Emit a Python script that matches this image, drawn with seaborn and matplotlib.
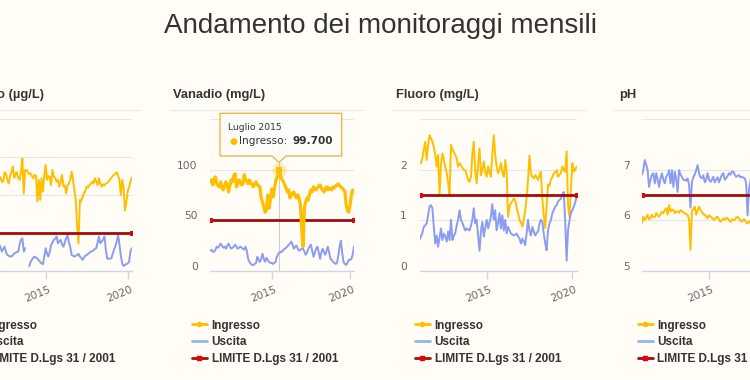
import numpy as np
import pandas as pd
import matplotlib.pyplot as plt
from matplotlib.lines import Line2D
from matplotlib.patches import Polygon
from matplotlib.transforms import Affine2D, ScaledTranslation
import seaborn as sns

nan = np.nan

# -------------------------------
# Dati mensili (feb 2011 - apr 2020)
# -------------------------------
inizio = "2011-02-01"
mese_tooltip = "2015-07-01"

arsenico_ingresso = [
    26, 24, 27, 25, 23, 26, 28, 25, 24, 26,
    25, 27, 24, 25, 24.5, 23.5, 23.5, 26, 25.5, 24,
    23, 25, 26, 27.5, 24.5, 25.5, 26, 24.5, 24, 26,
    29.6, 20.4, 26.5, 26.6, 26, 25.5, 25.7, 25, 24.4, 25.3,
    25, 18.3, 24, 18.7, 24.4, 20.9, 25, 27.9, 24, 25,
    24.8, 22.6, 26.6, 24.8, 24.5, 23.5, 24, 22.2, 23.5, 25.3,
    22.2, 22.5, 20.4, 22.6, 23, 24, 26.1, 24, 21.3, 18.7,
    12, 7.3, 18.7, 18.3, 19.5, 20.4, 21, 22.2, 22, 22.6,
    23, 23.5, 23, 24.4, 23.5, 22.6, 24.4, 23, 22.2, 22.8,
    22.6, 23, 23.2, 23.5, 24, 24.5, 25, 25.3, 25.6, 26,
    25, 24, 20, 24, 22, 15.9, 18, 20.9, 22, 23.5,
    24.5,
]
arsenico_uscita = [
    5, 7, 5.5, 4, 6, 8, 6.5, 5, 4.5, 6,
    7, 5.5, 6, 7, 6.2, 5.1, 5.8, 6.4, 5, 4.2,
    4, 3.8, 3.8, 4.2, 4.6, 4.8, 5, 5.1, 7, 8.2,
    8.6, 5.1, 6, nan, nan, 1.3, 2.4, 3, 3.5, 3.8,
    3.5, 3.3, 2.8, 2.4, 2, 1.8, 3.8, 6, 4.5, 3.8,
    5, 6.8, 7.5, 8.2, 8.5, 9.1, 7.3, 7.8, 8.2, 7,
    6.4, 7.5, 8.6, 9.5, 7.5, 6.4, 4.2, 4, 3.8, 4,
    4.2, 4.5, 3.8, 3.5, 2.9, 3.5, 4, 4.2, 4.5, 4.8,
    5.1, 5.2, 5.5, 5.8, 6, 7.5, 9.1, 7.3, 7.8, 8.2,
    9.1, 5.6, 3.3, 3.2, 3.3, 3.3, 4.5, 5.6, 6.5, 7.7,
    9.5, 7, 4, 2, 1.3, 1.6, 1.8, 2, 2.4, 5.1,
    6,
]
vanadio_ingresso = [
    88, 90, 85, 91, 93, 86, 84, 83, 88, 82,
    80, 84, 88, 85, 78, 84, 90, 88, 94, 96,
    83, 86, 90, 88, 85, 86, 95, 90, 88, 86,
    90, 87, 85, 83, 86, 88, 85, 84, 83, 72,
    68, 63, 58, 60, 75, 62, 70, 81, 73, 80,
    88, 92, 95, 99.7, 93, 90, 88, 85, 82, 78,
    80, 72, 75, 77, 78, 74, 72, 75, 72, 65,
    40, 24, 62, 68, 72, 70, 76, 80, 78, 83,
    81, 80, 82, 84, 85, 82, 80, 78, 81, 83,
    80, 82, 81, 80, 83, 82, 84, 85, 86, 84,
    83, 82, 80, 79, 65, 60, 58, 65, 75, 80,
    78,
]
vanadio_uscita = [
    20, 21, 19, 19, 21, 24, 23, 25, 27, 25,
    23, 24, 22, 25, 27, 24, 22, 23, 24, 26,
    24, 22, 23, 24, 23, 22, 21, 24, 20, 12,
    9, 7, 6, 6, 7, 8, 14, 11, 9, 12,
    17, 12, 9, 13, 11, 9, 8, 8, 7, 8,
    9, 14, 17, 18, 19, 19, 21, 22, 23, 24,
    26, 27, 29, 26, 22, 24, 25, 22, 20, 21,
    22, 22, 19, 16, 18, 22, 24, 26, 20, 14,
    18, 22, 24, 18, 12, 18, 22, 19, 16, 20,
    24, 18, 12, 11, 9, 8, 7, 8, 15, 24,
    30, 18, 9, 7, 6, 8, 11, 11, 12, 16,
    24,
]
fluoro_ingresso = [
    2.15, 2.13, 2.22, 2.4, 2.55, 2.19, 2.49, 2.68, 2.62, 2.55,
    2.45, 2.29, 2.06, 2.29, 1.5, 2.09, 2.32, 2.2, 2.06, 1.93,
    1.75, 1.5, 2.49, 2.39, 2.35, 2.29, 2.22, 2.06, 2.13, 2.1,
    2.03, 2.0, 1.99, 1.9, 1.8, 1.76, 1.86, 2.3, 2.55, 1.99,
    1.73, 2.1, 2.42, 1.89, 2.0, 2.16, 1.95, 1.86, 2.06, 1.95,
    1.86, 2.29, 2.68, 2.3, 2.06, 1.93, 2.0, 2.13, 1.95, 1.86,
    2.19, 1.99, 1.07, 1.27, 1.34, 1.38, 1.43, 1.4, 1.25, 1.14,
    1.01, 0.95, 0.88, 1.01, 1.2, 1.43, 1.8, 2.28, 1.93, 1.85,
    1.83, 1.89, 1.85, 1.8, 1.9, 1.96, 1.43, 1.1, 0.85, 1.27,
    1.71, 1.68, 1.8, 1.85, 1.93, 1.95, 1.99, 1.86, 1.9, 1.93,
    2.06, 2.0, 1.96, 2.36, 1.3, 1.07, 1.6, 2.13, 1.96, 2.0,
    2.06,
]
fluoro_uscita = [
    0.62, 0.68, 0.75, 0.87, 0.9, 0.94, 1.1, 1.27, 1.3, 1.24,
    0.87, 0.54, 0.7, 0.48, 0.65, 0.84, 0.61, 0.74, 0.68, 0.58,
    0.78, 0.61, 1.01, 0.61, 0.7, 0.74, 0.9, 1.01, 1.2, 1.01,
    0.95, 0.87, 0.8, 0.84, 0.82, 0.8, 0.9, 1.01, 1.24, 0.94,
    1.01, 0.7, 0.4, 0.8, 0.97, 0.68, 0.85, 1.01, 0.84, 0.95,
    1.07, 1.32, 1.01, 1.2, 0.8, 0.95, 1.14, 0.84, 1.1, 0.8,
    1.01, 0.74, 0.87, 0.8, 0.74, 0.72, 0.7, 0.72, 0.74, 0.68,
    0.64, 0.54, 0.64, 0.58, 0.51, 0.74, 1.01, 0.8, 0.7, 0.87,
    0.78, 0.7, 0.75, 0.78, 0.94, 1.01, 0.97, 0.74, 0.55, 0.41,
    0.8, 0.94, 1.0, 1.14, 1.2, 1.27, 1.3, 1.37, 1.4, 1.43,
    1.5, 1.56, 1.01, 0.2, 0.8, 1.0, 1.14, 1.2, 1.27, 1.35,
    1.47,
]
ph_ingresso = [
    5.95, 6.07, 6.01, 6.05, 6.11, 6.02, 6.04, 6.11, 6.06, 6.07,
    6.14, 6.1, 6.07, 6.12, 6.17, 6.14, 6.2, 6.24, 6.11, 6.3,
    6.17, 6.22, 6.2, 6.14, 6.18, 6.17, 6.15, 6.2, 6.18, 6.16,
    6.14, 6.12, 6.11, 6.01, 5.42, 6.2, 6.22, 6.27, 6.11, 6.2,
    6.27, 6.2, 6.17, 6.12, 6.11, 6.08, 6.04, 6.1, 6.07, 6.05,
    6.02, 6.01, 6.06, 6.07, 6.02, 5.97, 6.0, 6.04, 6.01, 6.05,
    6.04, 6.0, 5.97, 6.02, 6.0, 6.01, 6.05, 6.07, 6.03, 5.99,
    5.97, 6.02, 6.01, 5.96, 5.94, 5.98, 5.95, 6.0, 5.97, 5.92,
    6.02, 5.98, 5.95, 6.0, 5.93, 5.97, 6.01, 5.96, 5.92, 5.98,
    6.0, 5.95, 5.9, 5.97, 6.02, 5.96, 5.93, 5.99, 6.0, 5.94,
    5.97, 5.95, 5.91, 5.98, 6.0, 5.96, 5.93, 5.97, 5.95, 5.99,
    5.96,
]
ph_uscita = [
    6.9, 6.99, 7.19, 7.1, 6.99, 6.66, 6.8, 6.9, 6.93, 6.73,
    6.93, 6.8, 6.66, 6.83, 6.93, 6.8, 6.73, 6.86, 6.9, 6.99,
    6.73, 6.99, 6.66, 6.96, 6.8, 6.56, 6.99, 6.9, 6.86, 6.8,
    6.8, 6.78, 6.83, 6.7, 6.25, 6.76, 6.86, 6.9, 6.99, 7.09,
    6.93, 6.85, 6.83, 6.89, 6.75, 6.8, 6.93, 6.8, 6.76, 6.8,
    6.86, 6.75, 6.8, 6.85, 6.75, 6.83, 6.9, 6.93, 6.8, 6.83,
    6.88, 6.93, 6.9, 6.96, 6.96, 6.9, 6.86, 6.88, 6.89, 6.85,
    6.86, 6.84, 6.83, 6.73, 6.1, 6.6, 6.8, 6.85, 6.9, 6.75,
    6.8, 6.88, 6.7, 6.82, 6.9, 6.85, 6.78, 6.8, 6.9, 6.86,
    6.74, 6.8, 6.92, 6.85, 6.8, 6.76, 6.88, 6.9, 6.82, 6.78,
    6.85, 6.9, 6.8, 6.74, 6.86, 6.9, 6.83, 6.8, 6.88, 6.85,
    6.8,
]

titoli = ["Arsenico (µg/L)", "Vanadio (mg/L)", "Fluoro (mg/L)", "pH"]
limiti = [10, 50, 1.5, 6.5]
tick_y = [[0, 10, 20, 30, 40], [0, 50, 100, 150], [0, 1, 2, 3], [5, 6, 7, 8]]
anni = ["2015", "2020"]
voci_legenda = ["Ingresso", "Uscita", "LIMITE D.Lgs 31 / 2001"]

# -------------------------------
# Stile
# -------------------------------
sns.set_theme(style="white")
plt.rcParams["font.family"] = ["DejaVu Sans"]

SFONDO = "#fffdf6"
GIALLO = "#ffbf00"
BLU = "#8a9cf4"
BLU_LEG = "#8fb8e8"
ROSSO = "#a10c0c"
ROSSO_PUNTO = "#e5000b"
TESTO = "#333333"
GRIGIO = "#666666"

fig = plt.figure(figsize=(7.5, 3.8), dpi=100, facecolor=SFONDO)
# coordinate in pixel con origine in alto a sinistra
px = Affine2D().scale(1 / 750, -1 / 380).translate(0, 1) + fig.transFigure

fig.text(380, 33, "Andamento dei monitoraggi mensili", transform=px,
         ha="center", va="baseline", fontsize=20, family="Liberation Sans", color=TESTO)

# posizioni (pixel) dei quattro riquadri
aree_x = [(-18.6, 131.8), (210.3, 354), (419.6, 576.6), (642, 799)]
titoli_x = [44, 173, 396, 619]
separatori = [(-53, 140), (170, 363), (392, 586), (613, 806)]
legende_x = [-31, 192, 415, 637.7]

serie = [
    (arsenico_ingresso, arsenico_uscita),
    (vanadio_ingresso, vanadio_uscita),
    (fluoro_ingresso, fluoro_uscita),
    (ph_ingresso, ph_uscita),
]

for i, (ingresso, uscita) in enumerate(serie):
    date = pd.date_range(inizio, periods=len(ingresso), freq="MS")
    df = pd.DataFrame({"data": date, "Ingresso": ingresso, "Uscita": uscita})
    df = df.melt("data", var_name="serie", value_name="valore")
    # tratti separati dove manca il dato
    df["tratto"] = df.groupby("serie")["valore"].transform(lambda s: s.isna().cumsum())
    df = df.dropna()

    l, r = aree_x[i]
    ax = fig.add_axes([l / 750, 1 - 271 / 380, (r - l) / 750, 152 / 380])
    ax.set_facecolor("none")

    sns.lineplot(data=df, x="data", y="valore", hue="serie", units="tratto",
                 estimator=None, hue_order=["Ingresso", "Uscita"],
                 palette={"Ingresso": GIALLO, "Uscita": BLU},
                 linewidth=1.4, legend=False, ax=ax)

    hover = i == 1
    if hover:
        for line in ax.lines:
            if line.get_color() == GIALLO:
                line.set_linewidth(2.3)
                line.set_zorder(3)

    sns.lineplot(x=[date[0], date[-1]], y=[limiti[i], limiti[i]], color=ROSSO,
                 linewidth=2, marker="s", markersize=3.5, markerfacecolor=ROSSO_PUNTO,
                 markeredgecolor=ROSSO_PUNTO, ax=ax, zorder=2.6)

    ax.set_xlim(date[0], date[-1])
    ax.set_ylim(tick_y[i][0], tick_y[i][-1])
    ax.set_xlabel("")
    ax.set_ylabel("")
    sns.despine(ax=ax, left=True)
    ax.spines["bottom"].set_color("#ccd6eb")
    ax.spines["bottom"].set_linewidth(1)
    ax.grid(axis="y", color="#e6e6e6", linewidth=0.8)
    ax.grid(axis="x", visible=False)

    # le etichette y del primo riquadro restano fuori dall'immagine
    ax.tick_params(axis="y", length=0, pad=9, labelsize=7.7, labelcolor=GRIGIO,
                   labelleft=(i != 0))
    ax.tick_params(axis="x", length=6, width=1, color="#ccd6eb", direction="out",
                   pad=3.5, labelsize=7.7, labelcolor=GRIGIO, bottom=True)
    ax.set_yticks(tick_y[i])
    ax.set_yticklabels([f"{t:g}" for t in tick_y[i][:-1]] + [""])
    ax.set_xticks([pd.Timestamp(a + "-01-01") for a in anni])
    ax.set_xticklabels(anni, rotation=22, ha="right", va="top", rotation_mode="anchor")

    su = ScaledTranslation(0, 5 / 100, fig.dpi_scale_trans)
    for lab in ax.get_yticklabels():
        lab.set_transform(lab.get_transform() + su)
    dx = ScaledTranslation(2.5 / 100, 0, fig.dpi_scale_trans)
    for lab in ax.get_xticklabels():
        lab.set_transform(lab.get_transform() + dx)

    # titolo del riquadro e linea sotto
    fig.text(titoli_x[i], 95, titoli[i], transform=px, ha="right" if i == 0 else "left",
             va="center", fontsize=9.3, fontweight="bold", family="Liberation Sans", color=TESTO)
    a, b = separatori[i]
    fig.add_artist(Line2D([a, b], [110, 110], transform=px, color="#e8e8e8", linewidth=0.8))

    # legenda
    maniglie = [
        Line2D([], [], color=GIALLO, linewidth=2, marker="o", markersize=3),
        Line2D([], [], color=BLU_LEG, linewidth=2),
        Line2D([], [], color=ROSSO, linewidth=2, marker="s", markersize=3,
               markerfacecolor=ROSSO_PUNTO, markeredgecolor=ROSSO_PUNTO),
    ]
    leg = ax.legend(maniglie, voci_legenda, loc="upper left",
                    bbox_to_anchor=(legende_x[i] / 750, 1 - 319.5 / 380),
                    bbox_transform=fig.transFigure, frameon=False,
                    handlelength=1.27, handletextpad=0.4, labelspacing=0.42,
                    borderpad=0, borderaxespad=0,
                    prop={"family": "Liberation Sans", "weight": "bold", "size": 8.5})
    for t in leg.get_texts():
        t.set_color(TESTO)

    # tooltip su Vanadio, luglio 2015
    if hover:
        k = list(date).index(pd.Timestamp(mese_tooltip))
        ax.axvline(date[k], color="#cccccc", linewidth=0.8, zorder=1)
        ax.scatter([date[k]], [ingresso[k]], s=110, color=GIALLO, alpha=0.25,
                   linewidths=0, zorder=4)
        ax.scatter([date[k]], [ingresso[k]], s=18, color=GIALLO, marker="s",
                   linewidths=0, zorder=5)

        fig.add_artist(Polygon(
            [(220, 113.3), (341.7, 113.3), (341.7, 156), (286, 156), (279, 162.5),
             (272, 156), (220, 156)],
            closed=True, transform=px, facecolor="#fbfbf8", edgecolor="#f5b041",
            linewidth=1, alpha=0.95))
        fig.text(228, 128, "Luglio 2015", transform=px, va="center", fontsize=6.6, color=TESTO)
        fig.text(229.5, 141.5, "●", transform=px, va="center", fontsize=6.5, color=GIALLO)
        fig.text(239.5, 141.5, "Ingresso:", transform=px, va="center", fontsize=7.6, color=TESTO)
        fig.text(292.5, 141.5, f"{ingresso[k]:.3f}", transform=px, va="center",
                 fontsize=7.6, fontweight="bold", color=TESTO)

fig.savefig("out.png", dpi=100, facecolor=SFONDO)
